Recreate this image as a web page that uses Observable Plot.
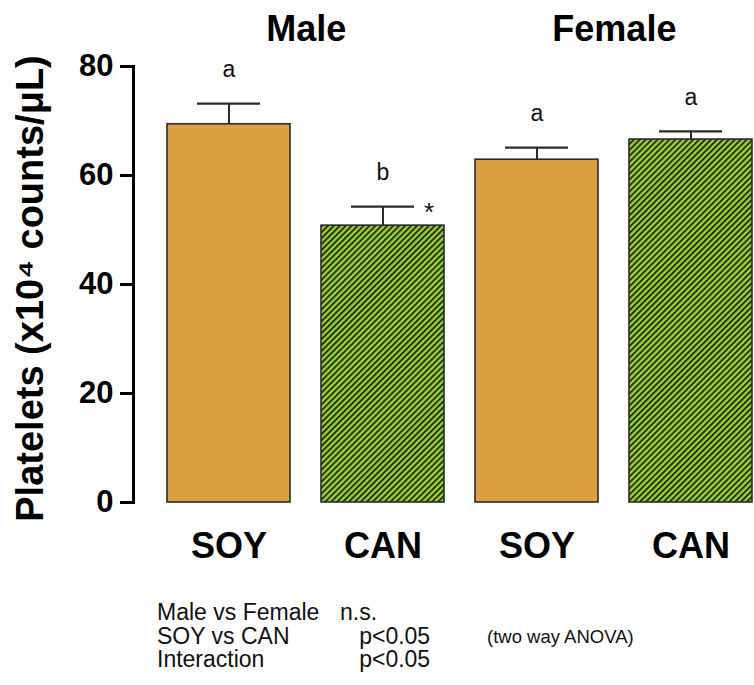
<!DOCTYPE html>
<html>
<head>
<meta charset="utf-8">
<script src="https://cdn.jsdelivr.net/npm/d3@7"></script>
<script src="https://cdn.jsdelivr.net/npm/@observablehq/plot@0.6"></script>
<style>
  html, body { margin: 0; padding: 0; background: #fff; }
  #wrap { width: 754px; }
  #stats { position: relative; width: 754px; height: 110px; font-family: "Liberation Sans", Arial, sans-serif; color: #111; }
  #stats .col { position: absolute; top: 26px; font-size: 23px; line-height: 23.5px; white-space: pre; }
  #stats .anova { position: absolute; top: 53px; left: 487px; font-size: 18.5px; line-height: 18.5px; }
</style>
</head>
<body>
<div id="wrap"></div>
<div id="stats">
  <div class="col" style="left:157px">Male vs Female<br>SOY vs CAN<br>Interaction</div>
  <div class="col" style="left:340px">n.s.<br>   p&lt;0.05<br>   p&lt;0.05</div>
  <div class="anova">(two way ANOVA)</div>
</div>
<script>
// ---- data ----
const categories = ["Male SOY", "Male CAN", "Female SOY", "Female CAN"];
const sexes = ["Male", "Male", "Female", "Female"];
const diets = ["SOY", "CAN", "SOY", "CAN"];
const means = [69.4, 50.8, 62.9, 66.6];
const errors = [3.8, 3.5, 2.2, 1.5];
const letters = ["a", "b", "a", "a"];
const stars = ["", "*", "", ""];
const groupTitles = ["Male", "Female"];
const yTicks = [0, 20, 40, 60, 80];
const yLabel = "Platelets (x10\u2074 counts/\u03BCL)";

const data = categories.map((c, i) => ({
  cat: c, sex: sexes[i], diet: diets[i], mean: means[i], se: errors[i],
  top: means[i] + errors[i], letter: letters[i], star: stars[i]
}));
const groups = groupTitles.map(g => ({ group: g, first: categories[sexes.indexOf(g)] }));

// ---- layout / style ----
const W = 754, H = 575;
const mL = 133, mR = 2, mT = 66, mB = 73;
const padIn = 0.2, padOut = 0.1;
const step = (W - mL - mR) / (categories.length - padIn + 2 * padOut);
const ORANGE = "#dca043";
const FONT = "'Liberation Sans', Arial, sans-serif";
const BAR_STROKE = "#2b2b2b";

const plot = Plot.plot({
  width: W, height: H,
  marginLeft: mL, marginRight: mR, marginTop: mT, marginBottom: mB,
  style: { fontFamily: FONT, background: "#fff", color: "#000" },
  x: { type: "band", domain: categories, paddingInner: padIn, paddingOuter: padOut, align: 1, label: null, axis: null },
  y: { domain: [0, 80], label: null, axis: null },
  marks: [
    Plot.frame({ anchor: "left", stroke: "#000", strokeWidth: 3 }),
    Plot.axisY({ ticks: yTicks, tickSize: 13, tickPadding: 7, strokeWidth: 3, fontSize: 31, fontWeight: "bold", label: null }),
    Plot.axisX({ tickSize: 0, tickPadding: 30, fontSize: 36, fontWeight: "bold", label: null,
      tickFormat: c => diets[categories.indexOf(c)] }),
    // error stems & caps
    Plot.ruleX(data, { x: "cat", y1: "mean", y2: "top", stroke: BAR_STROKE, strokeWidth: 2 }),
    Plot.tickY(data, { x: "cat", y: "top", stroke: BAR_STROKE, strokeWidth: 2.2, insetLeft: 30, insetRight: 30 }),
    // bars
    Plot.barY(data.filter(d => d.diet === "SOY"), { x: "cat", y: "mean", fill: ORANGE, stroke: BAR_STROKE, strokeWidth: 1.6 }),
    Plot.barY(data.filter(d => d.diet === "CAN"), { x: "cat", y: "mean", fill: "url(#hatch)", stroke: BAR_STROKE, strokeWidth: 1.6 }),
    // letters
    Plot.text(data, { x: "cat", y: "top", text: "letter", dy: -34, fontSize: 23, fill: "#111" }),
    Plot.text(data.filter(d => d.star), { x: "cat", y: "top", text: "star", dx: 46, dy: 6, fontSize: 26, fill: "#111" }),
    // group titles
    Plot.text(groups, { x: "first", text: "group", frameAnchor: "top", dx: step / 2, dy: -26, lineAnchor: "bottom",
      fontSize: 36, fontWeight: "bold", fill: "#000" }),
    // y label
    Plot.text([yLabel], { frameAnchor: "left", rotate: -90, dx: -103, dy: 4, textAnchor: "middle", lineAnchor: "middle",
      fontSize: 38, fontWeight: "bold", fill: "#000" })
  ]
});

// hatch pattern definition
const svg = d3.select(plot.tagName === "svg" ? plot : plot.querySelector("svg"));
const defs = svg.insert("defs", ":first-child");
const pat = defs.append("pattern")
  .attr("id", "hatch").attr("patternUnits", "userSpaceOnUse")
  .attr("width", 4.2).attr("height", 4.2)
  .attr("patternTransform", "rotate(45)");
pat.append("rect").attr("width", 4.2).attr("height", 4.2).attr("fill", "#9ed23a");
pat.append("rect").attr("width", 1.9).attr("height", 4.2).attr("fill", "#1f3208");

document.getElementById("wrap").appendChild(plot);
</script>
</body>
</html>
